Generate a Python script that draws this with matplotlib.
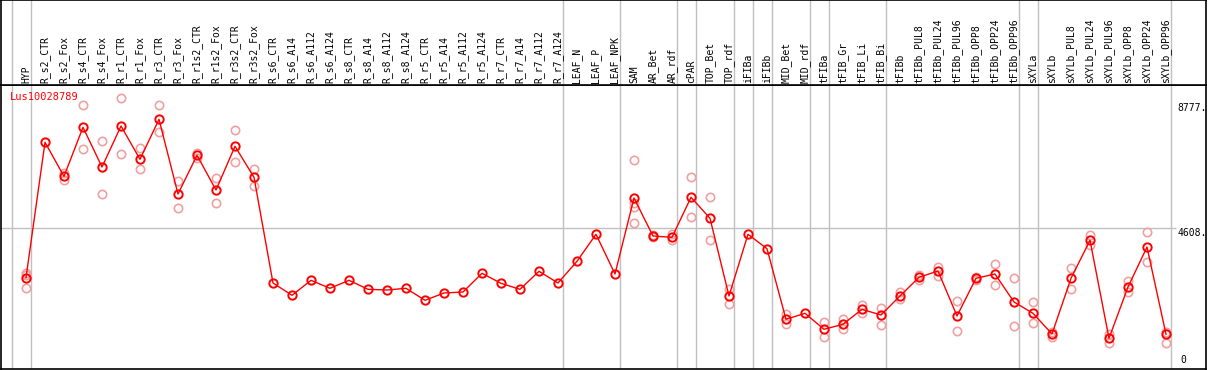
import numpy as np
import matplotlib.pyplot as plt

# sample labels (one column each)
samples = ['HYP', 'R_s2_CTR', 'R_s2_Fox', 'R_s4_CTR', 'R_s4_Fox', 'R_r1_CTR', 'R_r1_Fox',
           'R_r3_CTR', 'R_r3_Fox', 'R_r1s2_CTR', 'R_r1s2_Fox', 'R_r3s2_CTR', 'R_r3s2_Fox',
           'R_s6_CTR', 'R_s6_A14', 'R_s6_A112', 'R_s6_A124', 'R_s8_CTR', 'R_s8_A14',
           'R_s8_A112', 'R_s8_A124', 'R_r5_CTR', 'R_r5_A14', 'R_r5_A112', 'R_r5_A124',
           'R_r7_CTR', 'R_r7_A14', 'R_r7_A112', 'R_r7_A124', 'LEAF_N', 'LEAF_P', 'LEAF_NPK',
           'SAM', 'AR_Bet', 'AR_rdf', 'cPAR', 'TOP_Bet', 'TOP_rdf', 'iFIBa', 'iFIBb',
           'MID_Bet', 'MID_rdf', 'tFIBa', 'tFIB_Gr', 'tFIB_Li', 'tFIB_Bi', 'tFIBb',
           'tFIBb_PUL8', 'tFIBb_PUL24', 'tFIBb_PUL96', 'tFIBb_OPP8', 'tFIBb_OPP24',
           'tFIBb_OPP96', 'sXYLa', 'sXYLb', 'sXYLb_PUL8', 'sXYLb_PUL24', 'sXYLb_PUL96',
           'sXYLb_OPP8', 'sXYLb_OPP24', 'sXYLb_OPP96']

# mean expression per sample
mean_expr = [2932, 7470, 6330, 7972, 6642, 8016, 6900, 8240, 5737, 7034, 5871, 7336, 6297,
             2755, 2342, 2845, 2577, 2845, 2543, 2520, 2577, 2175, 2420, 2453, 3080,
             2745, 2543, 3147, 2755, 3482, 4387, 3056,
             5603, 4330, 4286, 5627, 4923, 2319, 4387, 3904,
             1538, 1739, 1203, 1371, 1873, 1682, 2319,
             2946, 3157, 1649, 2912, 3056, 2118, 1739, 1046,
             2912, 4186, 901, 2621, 3961, 1036]

# replicate values (nan where hidden behind the mean)
nan = np.nan
rep_a = [3100, nan, 6450, 8710, 7513, 8954, 7269, 8710, 6163, 7123, 6264, 7872, 6575,
         nan, nan, nan, nan, nan, nan, nan, nan, nan, nan, nan, nan,
         nan, nan, nan, nan, nan, nan, nan,
         6877, 4360, 4397, 6297, 5627, 2564, nan, nan,
         1726, nan, 1438, 1538, 2028, 1907, 2453,
         3023, 3301, 2151, 2950, 3391, 2912, 2118, 1123,
         3257, 4363, 1036, 2822, 4454, 1102]
rep_b = [2577, nan, 6206, 7235, 5727, 7078, 6565, 7805, 5268, 6944, 5436, 6800, 6015,
         nan, nan, nan, nan, nan, nan, nan, nan, nan, nan, nan, nan,
         nan, nan, nan, nan, nan, nan, nan,
         4755, 4300, 4196, 4956, 4186, 2041, nan, nan,
         1371, nan, 935, 1223, 1750, 1337, 2208,
         2855, 3000, 1146, 2870, 2677, 1303, 1404, 955,
         2543, 4028, 754, 2443, 3448, 734]
rep_c = {0: [3020], 32: [5425, 5312]}

# group separators (after these column indices)
separators = [-1, 0, 28, 31, 34, 35, 37, 38, 39, 41, 42, 45, 52, 53, 60]

W, H = 1209, 370
fig = plt.figure(figsize=(W / 100, H / 100), dpi=100)

def px_box(x0, y0, x1, y1):
    # pixel box (top-left origin) -> figure fraction rect
    return [x0 / W, 1 - y1 / H, (x1 - x0) / W, (y1 - y0) / H]

ax = fig.add_axes(px_box(1, 85, 1206, 369))
hdr = fig.add_axes(px_box(1, 0, 1206, 85))

# x: column i sits at pixel 26 + 19 * i
xlim = ((1 - 26) / 19, (1206 - 26) / 19)
# y: value 0 at pixel 365.2, 0.02984 px per unit
scale = 0.02984
ylim = ((365.2 - 369) / scale, (365.2 - 85) / scale)

x = np.arange(len(samples))
grey = '#c0c0c0'
mono = 'DejaVu Sans Mono'

for a in (ax, hdr):
    a.set_xlim(*xlim)
    for s in separators:
        a.axvline(s + 4.5 / 19, color=grey, lw=1.0, zorder=0)
    a.set_xticks([])
    a.set_yticks([])
    for sp in a.spines.values():
        sp.set_color('black')
        sp.set_linewidth(1.2)

ax.set_ylim(*ylim)
hdr.set_ylim(0, 85)

# header labels
for i, name in enumerate(samples):
    hdr.text(i, 2, name, rotation=90, ha='center', va='bottom',
             fontsize=7, family=mono, color='black')

# horizontal reference line
ax.hlines(4608, xlim[0], (1176 - 26) / 19, color=grey, lw=1.0, zorder=0)

# replicates
rep_col = '#f0a0a0'
ax.plot(x, rep_a, 'o', ms=6, mfc='none', mec=rep_col, mew=1.2, zorder=2)
ax.plot(x, rep_b, 'o', ms=6, mfc='none', mec=rep_col, mew=1.2, zorder=2)
for i, vals in rep_c.items():
    ax.plot([i] * len(vals), vals, 'o', ms=6, mfc='none', mec=rep_col, mew=1.2, zorder=2)

# mean line
ax.plot(x, mean_expr, '-', color='red', lw=1.0, zorder=3)
ax.plot(x, mean_expr, 'o', ms=6, mfc='none', mec='red', mew=1.4, zorder=4)

# right-hand value labels
xl = (1177 - 26) / 19
ax.text(xl, 8777, '8777.', ha='left', va='top', fontsize=7, family=mono)
ax.text(xl, 4608, '4608.', ha='left', va='top', fontsize=7, family=mono)
ax.text((1180 - 26) / 19, 0, '0', ha='left', va='bottom', fontsize=7, family=mono)

ax.text((10 - 26) / 19, (365.2 - 92) / scale, 'Lus10028789', ha='left', va='top',
        fontsize=7.5, family=mono, color='red')

fig.savefig('out.png', dpi=100)
